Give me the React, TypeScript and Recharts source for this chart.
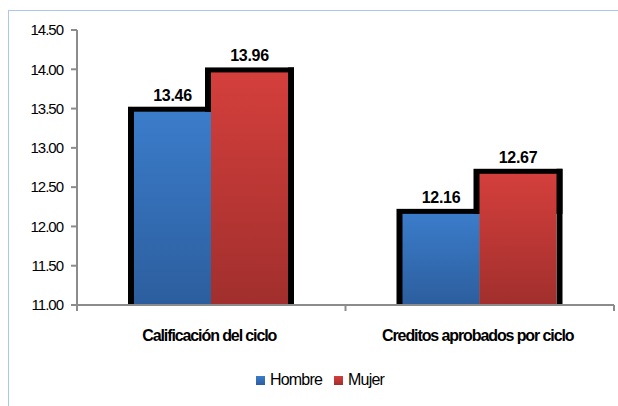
import { BarChart, Bar, XAxis, YAxis, LabelList, Legend } from 'recharts'

const categories = ['Calificación del ciclo', 'Creditos aprobados por ciclo']
const hombre = [13.46, 12.16]
const mujer = [13.96, 12.67]
const yTicks = [11, 11.5, 12, 12.5, 13, 13.5, 14, 14.5]

const data = categories.map((name, i) => ({ name, hombre: hombre[i], mujer: mujer[i] }))

const FONT = '"Liberation Sans", Arial, sans-serif'
const CHART_W = 610
const CHART_H = 398
const MARGIN = { top: 22, right: 4, left: 0, bottom: 0 }
const Y_W = 69
const X_H = 101
const Y_MIN = 11
const PLOT_W = CHART_W - MARGIN.left - MARGIN.right - Y_W
const BAND = PLOT_W / categories.length
const EDGE = 6 // thick black outline round each bar pair
const AXIS = '#8c8c8c'

const swatches: Record<string, string> = {
  hombre: 'linear-gradient(#3b7cca, #2c5e9e)',
  mujer: 'linear-gradient(#d43f3c, #a12f2d)',
}

function HombreShape(props: any) {
  const { x, y, width, height } = props
  return (
    <g>
      <rect x={x - EDGE} y={y - 5} width={width + EDGE} height={height + 5} fill="#000" />
      <rect x={x} y={y} width={width} height={height} fill="url(#gHombre)" />
    </g>
  )
}

function MujerShape(props: any) {
  const { x, y, width, height, payload } = props
  const bottom = y + height
  // pixels per unit, taken from this bar's own scaled height
  const ppu = height / (payload.mujer - Y_MIN)
  const hTop = bottom - (payload.hombre - Y_MIN) * ppu
  return (
    <g>
      <rect x={x - EDGE} y={y - 5} width={width + 2 * EDGE} height={Math.max(0, hTop - y + 5)} fill="#000" />
      <rect x={x + width} y={y - 5} width={EDGE} height={height + 5} fill="#000" />
      <rect x={x} y={y} width={width} height={height} fill="url(#gMujer)" />
    </g>
  )
}

function CategoryTick(props: any) {
  const { x, y, payload } = props
  const index = props.index ?? payload.index ?? 0
  const half = BAND / 2
  return (
    <g>
      <line x1={x - half} y1={y} x2={x - half} y2={y + 6} stroke={AXIS} strokeWidth={2} />
      {index === categories.length - 1 ? (
        <line x1={x + half} y1={y} x2={x + half} y2={y + 6} stroke={AXIS} strokeWidth={2} />
      ) : null}
      <text
        x={x - 2}
        y={y + 36}
        textAnchor="middle"
        fontSize={16}
        fontWeight="bold"
        letterSpacing={-1.1}
        fontFamily={FONT}
        fill="#000"
      >
        {payload.value}
      </text>
    </g>
  )
}

function LegendContent(props: any) {
  const items = props.payload ?? []
  return (
    <div
      style={{
        display: 'flex',
        justifyContent: 'center',
        alignItems: 'center',
        height: 18,
        marginLeft: 14,
        fontFamily: FONT,
        fontSize: 16,
        letterSpacing: -0.8,
        color: '#000',
      }}
    >
      {items.map((it: any, i: number) => (
        <div key={i} style={{ display: 'flex', alignItems: 'center', marginRight: i === 0 ? 12 : 0 }}>
          <span
            style={{
              display: 'inline-block',
              width: 9,
              height: 9,
              background: swatches[it.dataKey as string],
              marginRight: 5,
            }}
          />
          <span>{it.value}</span>
        </div>
      ))}
    </div>
  )
}

export default function App() {
  return (
    <div
      style={{
        position: 'fixed',
        left: 0,
        top: 0,
        width: 618,
        height: 406,
        overflow: 'hidden',
        background: '#fff',
      }}
    >
      <div
        style={{
          position: 'absolute',
          left: 8,
          top: 10,
          width: 700,
          height: 500,
          border: '1.5px solid #aec5ec',
        }}
      />
      <div style={{ position: 'absolute', left: 8, top: 8 }}>
        <BarChart
          width={CHART_W}
          height={CHART_H}
          data={data}
          margin={MARGIN}
          barGap={0}
          barSize={77}
        >
          <defs>
            <linearGradient id="gHombre" x1="0" y1="0" x2="0" y2="1">
              <stop offset="0%" stopColor="#3b7cca" />
              <stop offset="100%" stopColor="#2c5e9e" />
            </linearGradient>
            <linearGradient id="gMujer" x1="0" y1="0" x2="0" y2="1">
              <stop offset="0%" stopColor="#d43f3c" />
              <stop offset="100%" stopColor="#a12f2d" />
            </linearGradient>
          </defs>
          <XAxis
            dataKey="name"
            height={X_H}
            tickLine={false}
            tickSize={0}
            tickMargin={0}
            axisLine={{ stroke: AXIS, strokeWidth: 2 }}
            tick={<CategoryTick />}
            interval={0}
          />
          <YAxis
            width={Y_W}
            domain={[Y_MIN, 14.5]}
            ticks={yTicks}
            allowDataOverflow
            tickFormatter={(v: number) => v.toFixed(2)}
            tickSize={6}
            tickMargin={8}
            tickLine={{ stroke: AXIS, strokeWidth: 2 }}
            axisLine={{ stroke: AXIS, strokeWidth: 2 }}
            tick={{ fontSize: 15, fill: '#000', letterSpacing: -1, fontFamily: FONT }}
          />
          <Legend
            layout="horizontal"
            verticalAlign="middle"
            align="center"
            wrapperStyle={{ top: 363, left: 0, width: CHART_W }}
            content={<LegendContent />}
          />
          <Bar dataKey="hombre" name="Hombre" fill="#3b7cca" shape={<HombreShape />} isAnimationActive={false}>
            <LabelList
              dataKey="hombre"
              position="top"
              offset={11}
              formatter={(v: any) => Number(v).toFixed(2)}
              style={{ fontSize: 16, fontWeight: 'bold', fill: '#000', fontFamily: FONT, letterSpacing: -0.3 }}
            />
          </Bar>
          <Bar dataKey="mujer" name="Mujer" fill="#d43f3c" shape={<MujerShape />} isAnimationActive={false}>
            <LabelList
              dataKey="mujer"
              position="top"
              offset={11}
              formatter={(v: any) => Number(v).toFixed(2)}
              style={{ fontSize: 16, fontWeight: 'bold', fill: '#000', fontFamily: FONT, letterSpacing: -0.3 }}
            />
          </Bar>
        </BarChart>
      </div>
    </div>
  )
}
